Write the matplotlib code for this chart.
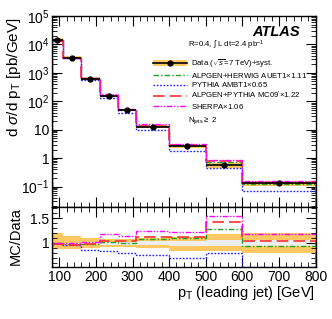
import numpy as np
import matplotlib
matplotlib.use('Agg')
import matplotlib.pyplot as plt
from matplotlib.patches import Patch
from matplotlib.lines import Line2D
from matplotlib.ticker import FixedLocator, MultipleLocator, LogLocator, NullFormatter

plt.rcParams['font.family'] = ['Liberation Sans', 'DejaVu Sans']
plt.rcParams['mathtext.fontset'] = 'custom'
plt.rcParams['mathtext.rm'] = 'Liberation Sans'
plt.rcParams['mathtext.it'] = 'Liberation Sans:italic'

# bin edges of leading jet pT [GeV]
edges = [80, 110, 160, 210, 260, 310, 400, 500, 600, 800]
# measured cross section [pb/GeV]
data = [1.4e4, 3.4e3, 630, 150, 48, 12.5, 2.6, 0.55, 0.13]
# relative systematic (up / down) and statistical uncertainty
syst_up = [0.20, 0.15, 0.10, 0.09, 0.09, 0.10, 0.12, 0.18, 0.21]
syst_dn = [0.12, 0.12, 0.09, 0.08, 0.08, 0.10, 0.15, 0.16, 0.20]
stat = [0.01, 0.01, 0.02, 0.03, 0.03, 0.04, 0.05, 0.06, 0.06]

# MC / data ratios
r_herwig = [1.00, 0.98, 0.99, 1.02, 1.01, 1.09, 1.10, 1.28, 0.95]
r_pythia = [0.98, 0.97, 0.87, 0.84, 0.80, 0.76, 0.70, 0.80, 0.53]
r_alpyth = [0.98, 0.97, 0.99, 1.05, 1.05, 1.12, 1.13, 1.43, 1.05]
r_sherpa = [1.00, 1.00, 1.03, 1.18, 1.14, 1.25, 1.22, 1.55, 1.18]

labels = ['ALPGEN+HERWIG AUET1$\\times$1.11', 'PYTHIA AMBT1$\\times$0.65',
          'ALPGEN+PYTHIA MC09$^{\\prime}$$\\times$1.22', 'SHERPA$\\times$1.06']

edges = np.array(edges, float)
data = np.array(data)
centers = 0.5 * (edges[1:] + edges[:-1])
halfw = 0.5 * (edges[1:] - edges[:-1])
su = np.array(syst_up)
sd = np.array(syst_dn)
st = np.array(stat)

orange = '#ffc862'
styles = [
    dict(color='#22a022', ls=(0, (4, 1.5, 1, 1.5)), lw=1.0),
    dict(color='#1f1fff', ls=(0, (1.2, 1.2)), lw=1.0),
    dict(color='#ff3030', ls=(0, (7, 3)), lw=1.2),
    dict(color='#ff00ff', ls=(0, (4, 1.2, 1, 1.2, 1, 1.2)), lw=1.0),
]
ratios = [r_herwig, r_pythia, r_alpyth, r_sherpa]

fig = plt.figure(figsize=(3.32, 3.19), dpi=100)
ax = fig.add_axes([52/332, 1-207/319, 263.5/332, 191/319])
axr = fig.add_axes([52/332, 1-267/319, 263.5/332, 60/319])

# top panel
ax.stairs(data*(1+su), edges, baseline=data*(1-sd), fill=True, color=orange, lw=0, zorder=1)
for r, s in zip(ratios, styles):
    ax.stairs(data*np.array(r), edges, zorder=2, **s)
ax.errorbar(centers, data, xerr=halfw, fmt='o', color='k', ms=3.5, lw=1.2, capsize=0, zorder=4)
ax.set_yscale('log')
ax.set_xlim(80, 800)
ax.set_ylim(0.019, 1e5)
ax.yaxis.set_major_locator(FixedLocator([1e-1, 1, 10, 1e2, 1e3, 1e4, 1e5]))
ax.set_yticklabels(['$10^{-1}$', '1', '10', '$10^2$', '$10^3$', '$10^4$', '$10^5$'])
ax.yaxis.set_minor_locator(LogLocator(base=10, subs=np.arange(2, 10), numticks=20))
ax.yaxis.set_minor_formatter(NullFormatter())
ax.xaxis.set_major_locator(MultipleLocator(100))
ax.xaxis.set_minor_locator(MultipleLocator(20))
ax.tick_params(labelbottom=False)

# ratio panel
axr.stairs(1+su, edges, baseline=1-sd, fill=True, color=orange, lw=0, zorder=1)
axr.stairs(1+st, edges, baseline=1-st, fill=True, color='#eeeeee', lw=0, zorder=1)
for r, s in zip(ratios, styles):
    axr.stairs(r, edges, zorder=2, **s)
axr.set_xlim(80, 800)
axr.set_ylim(0.52, 1.72)
axr.yaxis.set_major_locator(FixedLocator([1, 1.5]))
axr.set_yticklabels(['1', '1.5'])
axr.yaxis.set_minor_locator(MultipleLocator(0.1))
axr.xaxis.set_major_locator(MultipleLocator(100))
axr.xaxis.set_minor_locator(MultipleLocator(20))

for a in (ax, axr):
    a.tick_params(which='both', direction='in', top=True, right=True, labelsize=10, pad=2)
    a.tick_params(which='major', length=7, width=0.8)
    a.tick_params(which='minor', length=3.5, width=0.6)
    for sp in a.spines.values():
        sp.set_linewidth(1.0)

# legend
handles = [(Patch(color=orange, lw=0), Line2D([], [], color='k', marker='o', ms=3.5, lw=1.2))]
for s in styles:
    handles.append(Line2D([], [], **s))
leg = ax.legend(handles, ['Data ($\\sqrt{s}$=7 TeV)+syst.'] + labels, loc='upper left',
                bbox_to_anchor=(0.37, 0.80), frameon=False, fontsize=5.6,
                handlelength=4.4, handletextpad=0.6, labelspacing=0.1, borderaxespad=0)

ax.text(0.515, 0.845, 'R=0.4, $\\int$ L dt=2.4 pb$^{-1}$', transform=ax.transAxes, fontsize=5.6, va='center')
ax.text(0.515, 0.45, 'N$_{\\rm jets}\\geq$ 2', transform=ax.transAxes, fontsize=5.6, va='center')
ax.text(0.94, 0.915, 'ATLAS', transform=ax.transAxes, fontsize=10.5, fontweight='bold',
        style='italic', ha='right', va='center')

fig.text(14/332, 1-17/319, 'd $\\sigma$/d p$_{\\rm T}$ [pb/GeV]', rotation=90, ha='center', va='top', fontsize=11)
fig.text(16/332, 1-236/319, 'MC/Data', rotation=90, ha='center', va='center', fontsize=10.5)
fig.text(315/332, 1-297/319, 'p$_{\\rm T}$ (leading jet) [GeV]', ha='right', va='baseline', fontsize=10.5)

fig.savefig('out.png', dpi=100)
